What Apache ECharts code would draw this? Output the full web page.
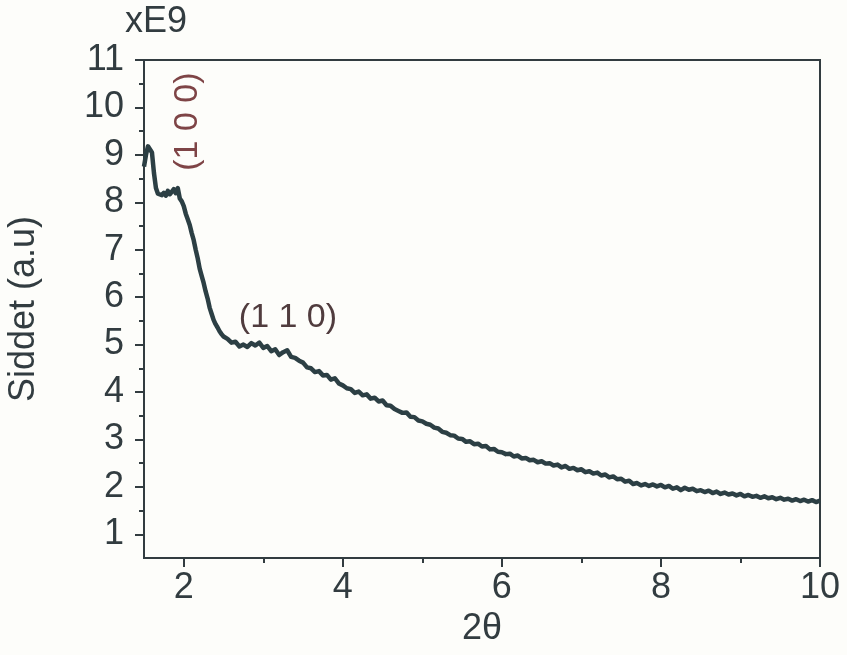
<!DOCTYPE html>
<html>
<head>
<meta charset="utf-8">
<script src="https://cdn.jsdelivr.net/npm/echarts@6/dist/echarts.min.js"></script>
<style>
  html, body { margin: 0; padding: 0; background: #fdfdfa; }
  #chart { width: 847px; height: 655px; }
</style>
</head>
<body>
<div id="chart"></div>
<script>
// Diffraction scan: intensity (x1e9, a.u.) against 2θ.
// Fine sampling over the low-angle peak, coarser over the tail.
const lowStart = 1.5, lowStep = 0.025;
const lowValues = [
  8.75, 9.00, 9.18, 9.22, 9.05, 8.62, 8.30, 8.18, 8.22, 8.15,
  8.20, 8.14, 8.24, 8.17, 8.22, 8.28, 8.19, 8.30, 8.08, 8.02,
  7.92, 7.76, 7.64, 7.52, 7.35, 7.20, 7.00, 6.82, 6.60, 6.45,
  6.30, 6.12, 5.97, 5.78, 5.65, 5.52, 5.43, 5.36, 5.28, 5.22,
  5.17
];
const tailStart = 2.55, tailStep = 0.05;
const tailValues = [
  5.12, 5.04, 5.06, 4.96, 5.00, 4.95, 5.03, 4.98, 5.04, 4.93,
  4.97, 4.86, 4.90, 4.78, 4.84, 4.88, 4.74, 4.72, 4.66, 4.62,
  4.52, 4.50, 4.42, 4.44, 4.35, 4.36, 4.26, 4.29, 4.18, 4.14,
  4.08, 4.06, 3.98, 4.01, 3.93, 3.95, 3.86, 3.88, 3.80, 3.82,
  3.72, 3.71, 3.64, 3.60, 3.56, 3.57, 3.48, 3.47, 3.40, 3.38,
  3.33, 3.31, 3.25, 3.23, 3.16, 3.14, 3.09, 3.08, 3.02, 3.01,
  2.95, 2.96, 2.90, 2.91, 2.85, 2.86, 2.79, 2.80, 2.74, 2.73,
  2.69, 2.70, 2.64, 2.66, 2.60, 2.61, 2.56, 2.57, 2.52, 2.54,
  2.49, 2.50, 2.45, 2.47, 2.41, 2.44, 2.38, 2.40, 2.35, 2.37,
  2.31, 2.33, 2.28, 2.30, 2.24, 2.26, 2.20, 2.22, 2.16, 2.17,
  2.11, 2.13, 2.06, 2.08, 2.03, 2.06, 2.02, 2.05, 2.01, 2.04,
  1.99, 2.02, 1.96, 1.99, 1.93, 1.98, 1.94, 1.96, 1.91, 1.93,
  1.89, 1.92, 1.87, 1.90, 1.85, 1.88, 1.84, 1.86, 1.82, 1.85,
  1.80, 1.83, 1.79, 1.81, 1.77, 1.80, 1.76, 1.78, 1.74, 1.77,
  1.73, 1.75, 1.71, 1.74, 1.70, 1.73, 1.69, 1.72, 1.68, 1.71
];

const xMajorTicks = [2, 4, 6, 8, 10];
const xMinorTicks = [3, 5, 7, 9];
const yMajorTicks = [1, 2, 3, 4, 5, 6, 7, 8, 9, 10, 11];
const yMinorTicks = [1.5, 2.5, 3.5, 4.5, 5.5, 6.5, 7.5, 8.5, 9.5, 10.5];

const peakLabels = [
  { text: '(1 0 0)', x: 2.05, y: 9.7, rotate: true, color: '#7e4446' },
  { text: '(1 1 0)', x: 3.31, y: 5.56, rotate: false, color: '#503c3e' }
];

const points = [];
lowValues.forEach((v, i) => points.push([+(lowStart + i * lowStep).toFixed(3), v]));
tailValues.forEach((v, i) => points.push([+(tailStart + i * tailStep).toFixed(3), v]));

const ink = '#323c40';
const font = 'Liberation Sans, Arial, sans-serif';

const chart = echarts.init(document.getElementById('chart'));

function majorAxisCommon(labels, ticks, margin) {
  return {
    axisLine: { show: true, lineStyle: { color: ink, width: 2 } },
    splitLine: { show: false },
    axisTick: { show: true, inside: false, length: 9, customValues: ticks, lineStyle: { color: ink, width: 2 } },
    axisLabel: { customValues: labels, color: ink, fontFamily: font, fontSize: 36, margin: margin }
  };
}

chart.setOption({
  backgroundColor: '#fdfdfa',
  animation: false,
  grid: {
    left: 144, right: 27, top: 60, bottom: 97,
    outerBoundsMode: 'none', containLabel: false,
    show: true, borderColor: ink, borderWidth: 2, backgroundColor: 'transparent'
  },
  xAxis: [
    Object.assign(majorAxisCommon(xMajorTicks, xMajorTicks, 12), {
      type: 'value', min: 1.5, max: 10, interval: 0.5,
      name: '2θ', nameLocation: 'middle', nameGap: 52,
      nameTextStyle: { color: ink, fontFamily: font, fontSize: 36 }
    }),
    {
      type: 'value', min: 1.5, max: 10, interval: 0.5, position: 'bottom',
      axisLine: { show: false }, splitLine: { show: false },
      axisLabel: { show: false },
      axisTick: { show: true, length: 5, customValues: xMinorTicks, lineStyle: { color: ink, width: 2 } }
    }
  ],
  yAxis: [
    Object.assign(majorAxisCommon(yMajorTicks, yMajorTicks, 20), {
      type: 'value', min: 0.5, max: 11, interval: 0.5,
      name: 'Siddet (a.u)', nameLocation: 'middle', nameGap: 102, nameRotate: 90,
      nameTextStyle: { color: ink, fontFamily: font, fontSize: 36 }
    }),
    {
      type: 'value', min: 0.5, max: 11, interval: 0.5, position: 'left',
      axisLine: { show: false }, splitLine: { show: false },
      axisLabel: { show: false },
      axisTick: { show: true, length: 5, customValues: yMinorTicks, lineStyle: { color: ink, width: 2 } }
    }
  ],
  series: [{
    type: 'line',
    data: points,
    showSymbol: false,
    smooth: false,
    lineStyle: { color: '#2c3f44', width: 4.5, join: 'round' },
    clip: true
  }]
});

// Reflection labels and the axis multiplier, placed in data space
const graphics = peakLabels.map(p => {
  const [px, py] = chart.convertToPixel({ xAxisIndex: 0, yAxisIndex: 0 }, [p.x, p.y]);
  return {
    type: 'text', x: px, y: py, rotation: p.rotate ? Math.PI / 2 : 0,
    style: {
      text: p.text, fill: p.color, font: '34px ' + font,
      align: 'center', verticalAlign: 'middle'
    }
  };
});
const [ex, ey] = chart.convertToPixel({ xAxisIndex: 0, yAxisIndex: 0 }, [1.5, 11]);
graphics.push({
  type: 'text', x: ex + 12, y: ey - 38,
  style: { text: 'xE9', fill: ink, font: '36px ' + font, align: 'center', verticalAlign: 'middle' }
});
chart.setOption({ graphic: graphics });
</script>
</body>
</html>
